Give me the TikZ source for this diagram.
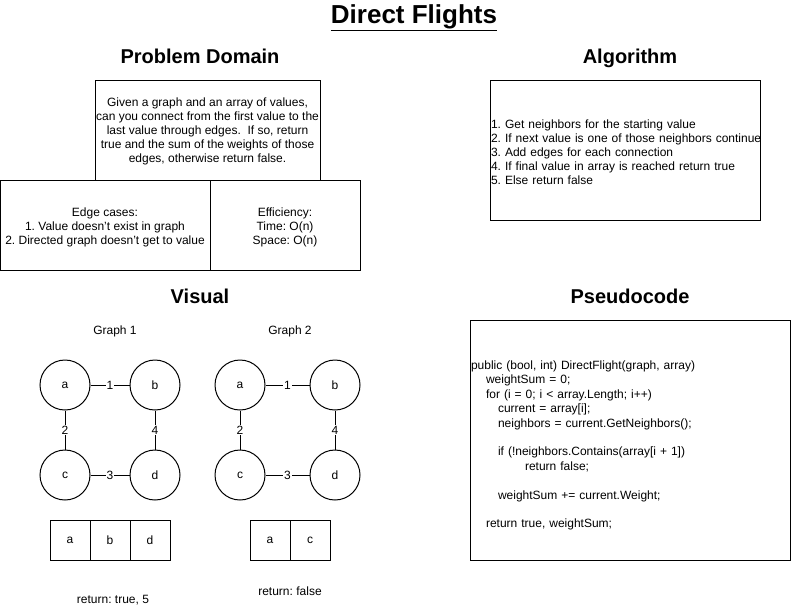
\documentclass[tikz,border=0pt]{standalone}
\usepackage{fontspec}
\setmainfont{Liberation Sans}
\usepackage{tikz}
\frenchspacing
\hyphenpenalty=10000
\tikzset{box/.style = {draw, line width=1, inner sep=0, align=center, font=\fontsize{12}{14}\selectfont}}
\tikzset{vertex/.style = {draw, circle, line width=1, inner sep=0, minimum size=50, font=\fontsize{12}{14}\selectfont}}
\tikzset{cell/.style = {draw, line width=1, inner sep=0, minimum size=40, font=\fontsize{12}{14}\selectfont}}
\tikzset{heading/.style = {anchor=base, font=\fontsize{20}{24}\selectfont\bfseries}}
\tikzset{weight/.style = {fill=white, inner sep=1, font=\fontsize{12}{14}\selectfont}}
\tikzset{plain/.style = {inner sep=0, font=\fontsize{12}{14}\selectfont}}

\begin{document}
\begin{tikzpicture}[x=1pt, y=-1pt]
    \useasboundingbox (0, 0) rectangle (791, 611);

    \node [anchor=base, font=\fontsize{26}{30}\selectfont\bfseries] (title) at (414, 23) {\underline{Direct Flights}};

    \node [heading] (domainhead) at (200, 63) {Problem Domain};
    \node [heading] (algohead) at (630, 63) {Algorithm};
    \node [heading] (visualhead) at (200, 303) {Visual};
    \node [heading] (codehead) at (630, 303) {Pseudocode};

    \node [box, minimum width=225, minimum height=100] (problem) at (207.5, 130)
      {\rule{0pt}{11pt}Given a graph and an array of values,\\can you connect from the first value to the\\last value through edges.\ \ If so, return\\true and the sum of the weights of those\\edges, otherwise return false.};
    \node [box, minimum width=210, minimum height=90] (edgecases) at (105, 225)
      {\rule{0pt}{13pt}Edge cases:\\1. Value doesn't exist in graph\\2. Directed graph doesn't get to value};
    \node [box, minimum width=150, minimum height=90] (efficiency) at (285, 225)
      {\rule{0pt}{13pt}Efficiency:\\Time: O(n)\\Space: O(n)};

    \node [box, text width=268, inner sep=1, align=left, minimum height=140] (algorithm) at (625, 150)
      {\rule{0pt}{14pt}1. Get neighbors for the starting value\\\mbox{2. If next value is one of those neighbors continue}\\3. Add edges for each connection\\4. If final value in array is reached return true\\5. Else return false};

    \node [box, text width=318, inner sep=1, align=left, minimum height=240, font=\fontsize{12}{14.4}\selectfont] (pseudocode) at (630, 440)
      {\rule{0pt}{20pt}public (bool, int) DirectFlight(graph, array)\\
       \hspace*{15pt}weightSum = 0;\\
       \hspace*{15pt}for (i = 0; i < array.Length; i++)\\
       \hspace*{27pt}current = array[i];\\
       \hspace*{27pt}neighbors = current.GetNeighbors();\\
       ~\\
       \hspace*{27pt}if (!neighbors.Contains(array[i + 1])\\
       \hspace*{54pt}return false;\\
       ~\\
       \hspace*{27pt}weightSum += current.Weight;\\
       ~\\
       \hspace*{15pt}return true, weightSum;};

    \node [plain] (graphone) at (115, 331) {Graph 1};
    \node [plain] (graphtwo) at (290, 331) {Graph 2};

    \node [vertex] (a1) at (65, 385) {a};
    \node [vertex] (b1) at (155, 385) {b};
    \node [vertex] (c1) at (65, 475) {c};
    \node [vertex] (d1) at (155, 475) {d};

    \draw [line width=1] (a1) edge node [weight] {1} (b1);
    \draw [line width=1] (a1) edge node [weight] {2} (c1);
    \draw [line width=1] (b1) edge node [weight] {4} (d1);
    \draw [line width=1] (c1) edge node [weight] {3} (d1);

    \node [vertex] (a2) at (240, 385) {a};
    \node [vertex] (b2) at (335, 385) {b};
    \node [vertex] (c2) at (240, 475) {c};
    \node [vertex] (d2) at (335, 475) {d};

    \draw [line width=1] (a2) edge node [weight] {1} (b2);
    \draw [line width=1] (a2) edge node [weight] {2} (c2);
    \draw [line width=1] (b2) edge node [weight] {4} (d2);
    \draw [line width=1] (c2) edge node [weight] {3} (d2);

    \node [cell] (arrone1) at (70, 540) {a};
    \node [cell] (arrone2) at (110, 540) {b};
    \node [cell] (arrone3) at (150, 540) {d};

    \node [cell] (arrtwo1) at (270, 540) {a};
    \node [cell] (arrtwo2) at (310, 540) {c};

    \node [plain] (resultone) at (113, 600) {return: true, 5};
    \node [plain] (resulttwo) at (290, 591) {return: false};
  \end{tikzpicture}
\end{document}
